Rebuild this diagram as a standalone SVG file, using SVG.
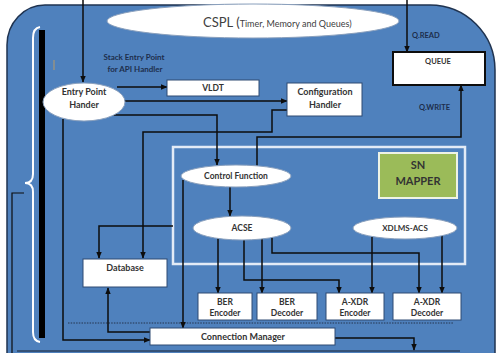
<svg xmlns="http://www.w3.org/2000/svg" width="501" height="353" viewBox="0 0 501 353">
  <style>
    .lbl { font-family: Lato, "Liberation Sans", sans-serif; font-weight: 700; fill: #333333; text-anchor: middle; }
    .nav { font-family: Lato, "Liberation Sans", sans-serif; font-weight: 700; fill: #1d2e4c; }
    .box { fill: #ffffff; stroke: #2e4a72; stroke-width: 1; }
    .oval { fill: #ffffff; stroke: #8aa0bd; stroke-width: 1; }
    .wire { fill: none; stroke: #0d0d0d; stroke-width: 1.5; }
  </style>
  <defs>
    <marker id="arrow" markerUnits="userSpaceOnUse" markerWidth="7" markerHeight="7" viewBox="0 0 10 10" refX="9" refY="5" orient="auto">
      <path d="M0,1 L10,5 L0,9 Z" fill="#0d0d0d"/>
    </marker>
  </defs>

  <rect width="501" height="353" fill="#ffffff"/>

  <!-- blue panel -->
  <path d="M7,353 V45 A38,40 0 0 1 45,5 H430 A65,65 0 0 1 495,70 V353" fill="#4f81bd" stroke="#1f3350" stroke-width="1.5"/>

  <!-- brace with dark shadow -->
  <path d="M42,30 V338" stroke="#000000" stroke-width="6" fill="none"/>
  <path d="M40,27 Q33,28 33,38 V174 Q33,183 25,183 Q33,183 33,192 V332 Q33,341 40,342" stroke="#ffffff" stroke-width="2" fill="none"/>
  <path d="M12,353 V193 H24" stroke="#0d0d0d" stroke-width="1.2" fill="none"/>
  <line x1="54" y1="60" x2="54" y2="70" stroke="#b89a68" stroke-width="1"/>

  <!-- separators -->
  <line x1="68" y1="323" x2="453" y2="323" stroke="#1a2233" stroke-width="0.8" stroke-dasharray="1.5 1.2"/>
  <line x1="17" y1="351" x2="460" y2="351" stroke="#1a2233" stroke-width="1"/>

  <!-- SN region frame -->
  <rect x="173" y="147" width="292" height="117" fill="none" stroke="#e3ebf6" stroke-width="2.5"/>

  <g id="cspl">
    <ellipse cx="253" cy="21" rx="146" ry="17" class="oval"/>
    <text x="203" y="27" font-family="Lato, 'Liberation Sans', sans-serif" fill="#404040"><tspan font-size="13">CSPL (</tspan><tspan font-size="9">Timer, Memory and Queues)</tspan></text>
  </g>

  <g id="labels">
    <text class="nav" x="134" y="60" font-size="8" text-anchor="middle">Stack Entry Point</text>
    <text class="nav" x="135" y="72" font-size="8" text-anchor="middle">for API Handler</text>
    <text class="nav" x="412" y="38" font-size="7.5">Q.READ</text>
    <text class="nav" x="419" y="110" font-size="7.5">Q.WRITE</text>
  </g>

  <g id="connectors">
    <path class="wire" d="M83,0 V82" marker-end="url(#arrow)"/>
    <path class="wire" d="M407,0 V52" marker-end="url(#arrow)"/>
    <path class="wire" d="M117,87 H167" marker-end="url(#arrow)"/>
    <path class="wire" d="M124,101 H287" marker-end="url(#arrow)"/>
    <path class="wire" d="M113,115 H217 V165" marker-end="url(#arrow)"/>
    <path class="wire" d="M287,110 H272 V132 H143 V258" marker-end="url(#arrow)"/>
    <path class="wire" d="M173,226 H99 V258" marker-end="url(#arrow)"/>
    <path class="wire" d="M63,119 V340 H150" marker-end="url(#arrow)"/>
    <path class="wire" d="M183,180 V328" marker-end="url(#arrow)"/>
    <path class="wire" d="M230,187 V216" marker-end="url(#arrow)"/>
    <path class="wire" d="M257,166 V137 H461 V85" marker-end="url(#arrow)"/>
    <path class="wire" d="M150,332 H108 V288" marker-end="url(#arrow)"/>
    <path class="wire" d="M335,338 H414 V350" marker-end="url(#arrow)"/>
    <path class="wire" d="M218,238 V293" marker-end="url(#arrow)"/>
    <path class="wire" d="M244,240 V280 H339 V293" marker-end="url(#arrow)"/>
    <path class="wire" d="M262,239 V293" marker-end="url(#arrow)"/>
    <path class="wire" d="M272,237 V253 H419 V293" marker-end="url(#arrow)"/>
    <path class="wire" d="M372,237 V293" marker-end="url(#arrow)"/>
    <path class="wire" d="M442,236 V293" marker-end="url(#arrow)"/>
  </g>

  <g id="entry-point">
    <ellipse cx="84" cy="102" rx="41" ry="19" class="oval"/>
    <text class="lbl" x="84" y="95" font-size="9">Entry Point</text>
    <text class="lbl" x="84" y="108" font-size="9">Hander</text>
  </g>

  <g id="vldt">
    <rect x="167" y="80" width="92" height="16" class="box"/>
    <text class="lbl" x="213" y="91" font-size="8.5">VLDT</text>
  </g>

  <g id="config-handler">
    <rect x="287" y="83" width="75" height="33" class="box"/>
    <text class="lbl" x="325" y="95" font-size="9">Configuration</text>
    <text class="lbl" x="325" y="108" font-size="9">Handler</text>
  </g>

  <g id="queue">
    <rect x="393" y="52" width="92" height="33" fill="#ffffff" stroke="#0d0d0d" stroke-width="2"/>
    <text class="lbl" x="438" y="64" font-size="7.5">QUEUE</text>
  </g>

  <g id="sn-mapper">
    <rect x="379" y="153" width="78" height="45" fill="#9bbb59" stroke="#eef3e6" stroke-width="2"/>
    <text class="lbl" x="418" y="169" font-size="11" fill="#2b2b2b">SN</text>
    <text class="lbl" x="418" y="185" font-size="11" fill="#2b2b2b">MAPPER</text>
  </g>

  <g id="control-function">
    <ellipse cx="236" cy="176" rx="55" ry="11" class="oval"/>
    <text class="lbl" x="236" y="179" font-size="8.5">Control Function</text>
  </g>

  <g id="acse">
    <ellipse cx="242" cy="228" rx="49" ry="12" class="oval"/>
    <text class="lbl" x="242" y="231" font-size="8.5">ACSE</text>
  </g>

  <g id="xdlms-acs">
    <ellipse cx="405" cy="228" rx="52" ry="11" class="oval"/>
    <text class="lbl" x="405" y="231" font-size="8">XDLMS-ACS</text>
  </g>

  <g id="database">
    <rect x="83" y="259" width="84" height="28" class="box"/>
    <text class="lbl" x="125" y="271" font-size="9">Database</text>
  </g>

  <g id="ber-encoder">
    <rect x="198" y="293" width="54" height="27" class="box"/>
    <text class="lbl" x="225" y="305" font-size="8.5">BER</text>
    <text class="lbl" x="225" y="316" font-size="8.5">Encoder</text>
  </g>

  <g id="ber-decoder">
    <rect x="257" y="293" width="60" height="27" class="box"/>
    <text class="lbl" x="287" y="305" font-size="8.5">BER</text>
    <text class="lbl" x="287" y="316" font-size="8.5">Decoder</text>
  </g>

  <g id="axdr-encoder">
    <rect x="326" y="293" width="58" height="27" class="box"/>
    <text class="lbl" x="355" y="305" font-size="8.5">A-XDR</text>
    <text class="lbl" x="355" y="316" font-size="8.5">Encoder</text>
  </g>

  <g id="axdr-decoder">
    <rect x="393" y="293" width="68" height="27" class="box"/>
    <text class="lbl" x="427" y="305" font-size="8.5">A-XDR</text>
    <text class="lbl" x="427" y="316" font-size="8.5">Decoder</text>
  </g>

  <g id="connection-manager">
    <rect x="150" y="328" width="185" height="17" class="box"/>
    <text class="lbl" x="243" y="340" font-size="9">Connection Manager</text>
  </g>
</svg>
